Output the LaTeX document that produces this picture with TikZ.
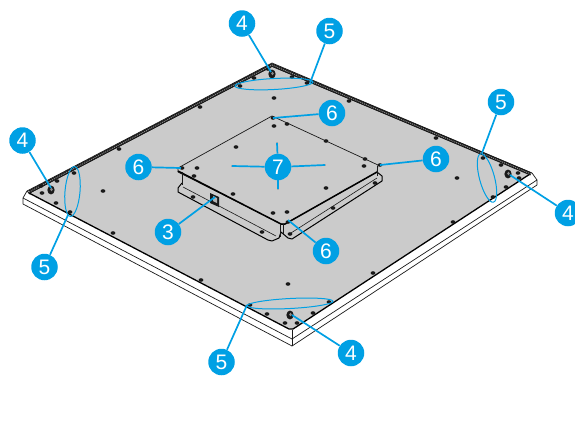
\documentclass[tikz,border=0pt]{standalone}
\usepackage{fontspec}
\setmainfont{Liberation Sans}
\definecolor{callblue}{HTML}{00A0E4}
\definecolor{platefill}{HTML}{CBCBCB}
\tikzset{
  x=1pt,y=-1pt,
  callout/.style={circle,fill=callblue,text=white,inner sep=0pt,minimum size=26.5pt,font=\fontsize{21}{21}\selectfont},
  leader/.style={callblue,line width=1.7pt},
  ring/.style={callblue,line width=1pt},
  frameline/.style={black!90,line width=0.7pt,line join=round},
  edgeline/.style={black,line width=1.3pt,line join=round},
  hole/.style={fill=black!90,draw=none},
}
\begin{document}
\begin{tikzpicture}
\useasboundingbox (0,0) rectangle (575,424);
% frame
\draw[frameline,fill=white] (27,191) -- (23,198) -- (23,204) -- (292,346) -- (537,185) -- (537,180) -- (532,173) -- (272,63) -- cycle;
\draw[frameline] (23,198) -- (292,339) -- (537,180);
\draw[frameline] (292,330) -- (292,346);
\draw[frameline] (27,191) -- (30,194);
% plate
\draw[edgeline,fill=platefill] (29,193) -- (272,66) -- (530,174) -- (293,329) -- (289,329) -- cycle;
% top strips
\draw[black!90,line width=3.2pt] (29,192) -- (272,65) -- (531,174);
\draw[black!45,line width=1pt,dash pattern=on 1pt off 1pt] (29,192) -- (272,65) -- (531,174);
% box flange
\draw[edgeline,line width=1pt,fill=platefill] (182,183) -- (178,188) -- (178,192) -- (268,240) -- (272,241) -- (279,238) -- (281,232) -- (288,238) -- (292,239) -- (382,181) -- (382,176) -- (377,172);
\draw[frameline,line width=0.6pt] (183,187) -- (276,236);
\draw[frameline,line width=0.6pt] (291,233) -- (377,178);
% box
\draw[frameline,fill=platefill] (178,168) -- (272,116) -- (378,165) -- (377,172) -- (285,224) -- (281,224) -- (178,172) -- cycle;
\draw[black,line width=1.5pt] (178,171) -- (281,224) -- (285,224) -- (377,172);
\draw[frameline] (182,172) -- (182,185);
\draw[frameline] (280,224) -- (280,237);
\draw[frameline] (283,224) -- (283,234);
\draw[frameline] (377,166) -- (377,176);
% connector port
\fill[black!90] (210,193) -- (219,197) -- (219,207) -- (210,203) -- cycle;
\fill[white!70!black] (213,196) -- (217,198) -- (217,203) -- (213,201) -- cycle;
% holes
\foreach \hx/\hy in {240/86,254/78,200/107,119/149,74/173,57/181,42/193,41/186,56/203,70/212,103/191,274/98,274/126,287/124,236/147,197/168,194/176,233/194,193/197,273/213,287/212,268/69,292/77,307/83,349/101,436/138,483/158,501/165,518/173,519/178,506/187,493/197,457/178,365/159,364/166,326/141,326/188,113/233,201/280,250/305,262/232,267/314,285/323,288/284,453/222,373/273,329/302,313/313,297/323,333/208,375/183,290/234,273/118,380/165,288/222,182/168}
  {\fill[hole] (\hx,\hy) ellipse (2.4pt and 1.8pt);}
\fill[black!70] (232,166) circle (0.7pt) (325,165) circle (0.7pt) (277,143) circle (0.7pt) (278,189) circle (0.7pt);
% knobs
\foreach \kx/\ky in {51/190,272/74,508/174,290/315}{
  \fill[black!90] (\kx,\ky) ellipse (3.6pt and 4.4pt);
  \fill[black!45] (\kx+0.5,\ky-0.5) ellipse (1.3pt and 1.8pt);
}
% rings
\draw[ring,rotate around={3:(274,84)}] (274,84) ellipse (39pt and 5.5pt);
\draw[ring,rotate around={-5:(72.5,191.5)}] (72.5,191.5) ellipse (7.5pt and 25pt);
\draw[ring,rotate around={15:(487,178)}] (487,178) ellipse (7.5pt and 25pt);
\draw[ring,rotate around={3:(290,303.5)}] (290,303.5) ellipse (43pt and 5pt);
% anchors
\coordinate (a1) at (271,72);
\coordinate (a2) at (310,83);
\coordinate (a3) at (273,118);
\coordinate (a4a) at (232,166);
\coordinate (a4b) at (325,165);
\coordinate (a4c) at (277,143);
\coordinate (a4d) at (278,189);
\coordinate (a5) at (181,168);
\coordinate (a6) at (380,165);
\coordinate (a7) at (482,153);
\coordinate (a8) at (51,188);
\coordinate (a9) at (510,175);
\coordinate (a10) at (68,215);
\coordinate (a11) at (215,197);
\coordinate (a12) at (288,220);
\coordinate (a13) at (247,305);
\coordinate (a14) at (292,315);
% callouts
\node[callout] (c1) at (242,23.5) {4};
\node[callout] (c2) at (329.5,31) {5};
\node[callout] (c3) at (332,113) {6};
\node[callout] (c4) at (278,167) {7};
\node[callout] (c5) at (138.5,167) {6};
\node[callout] (c6) at (436,159) {6};
\node[callout] (c7) at (501,102) {5};
\node[callout] (c8) at (22.5,140.5) {4};
\node[callout] (c9) at (568,213) {4};
\node[callout] (c10) at (44.5,267) {5};
\node[callout] (c11) at (168,232) {3};
\node[callout] (c12) at (326,251) {6};
\node[callout] (c13) at (221.5,362) {5};
\node[callout] (c14) at (351,353) {4};
% leaders
\draw[leader] (c1) -- (a1);
\draw[leader] (c2) -- (a2);
\draw[leader] (c3) -- (a3);
\draw[leader] (c4) -- (a4a);
\draw[leader] (c4) -- (a4b);
\draw[leader] (c4) -- (a4c);
\draw[leader] (c4) -- (a4d);
\draw[leader] (c5) -- (a5);
\draw[leader] (c6) -- (a6);
\draw[leader] (c7) -- (a7);
\draw[leader] (c8) -- (a8);
\draw[leader] (c9) -- (a9);
\draw[leader] (c10) -- (a10);
\draw[leader] (c11) -- (a11);
\draw[leader] (c12) -- (a12);
\draw[leader] (c13) -- (a13);
\draw[leader] (c14) -- (a14);
\end{tikzpicture}
\end{document}
